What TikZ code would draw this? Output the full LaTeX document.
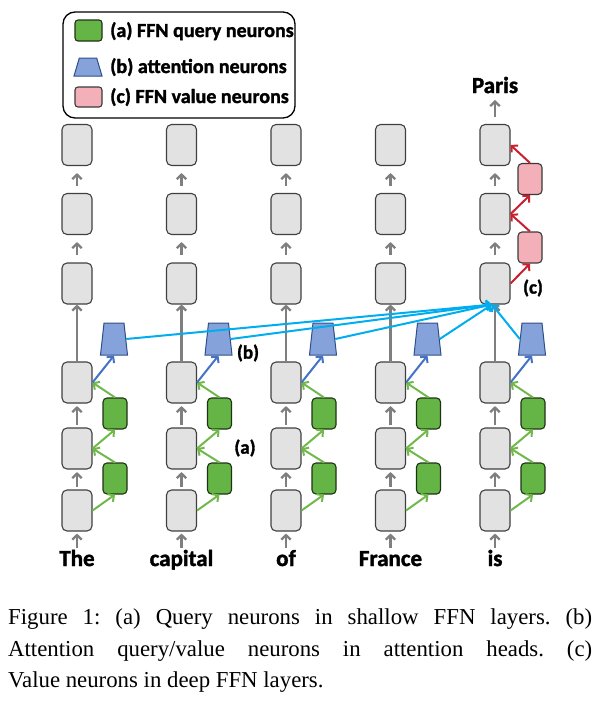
\documentclass[tikz,border=0pt]{standalone}
\usepackage{fontspec}
\setmainfont{Liberation Serif}
\newfontfamily\calb{Carlito}[BoldFeatures={FakeBold=1.6}]
\usetikzlibrary{arrows.meta,shapes.geometric,calc}
\definecolor{gfill}{HTML}{E3E2E3}
\definecolor{gline}{HTML}{404040}
\definecolor{qfill}{HTML}{64B545}
\definecolor{qline}{HTML}{1F3314}
\definecolor{vfill}{HTML}{F4B0B8}
\definecolor{vline}{HTML}{3A3A3A}
\definecolor{tfill}{HTML}{85A3DA}
\definecolor{tline}{HTML}{2F4F8A}
\definecolor{arrgray}{HTML}{7F7F7F}
\definecolor{arrgreen}{HTML}{70B84A}
\definecolor{arrblue}{HTML}{4472C4}
\definecolor{arrcyan}{HTML}{00AEEF}
\definecolor{arrred}{HTML}{C8202F}
\begin{document}
\begin{tikzpicture}[x=1pt,y=-1pt,
  gbox/.style={draw=gline,fill=gfill,line width=1.1pt,rounded corners=5pt,minimum width=30pt,minimum height=41pt,inner sep=0pt},
  qbox/.style={draw=qline,fill=qfill,line width=1.1pt,rounded corners=4pt,minimum width=24pt,minimum height=31pt,inner sep=0pt},
  vbox/.style={draw=vline,fill=vfill,line width=1.1pt,rounded corners=4pt,minimum width=24pt,minimum height=31pt,inner sep=0pt},
  trap/.style={trapezium,trapezium left angle=80,trapezium right angle=80,trapezium stretches=true,minimum width=27pt,minimum height=32pt,inner sep=1pt,draw=tline,fill=tfill,line width=1pt},
  tip/.style={-{Straight Barb[length=4.5pt,width=9.5pt]}},
  grayarr/.style={tip,draw=arrgray,line width=2.3pt},
  greenarr/.style={tip,draw=arrgreen,line width=2pt},
  bluearr/.style={tip,draw=arrblue,line width=2pt},
  cyanarr/.style={tip,draw=arrcyan,line width=2pt},
  redarr/.style={tip,draw=arrred,line width=2pt},
  word/.style={font=\calb\bfseries\fontsize{23}{27}\selectfont,anchor=base,inner sep=0pt},
  lab/.style={font=\calb\bfseries\fontsize{19}{23}\selectfont,inner sep=0pt},
  legtext/.style={font=\calb\bfseries\fontsize{20}{24}\selectfont,anchor=base west,inner sep=0pt},
  captext/.style={font=\fontsize{22.8}{27}\selectfont\frenchspacing,anchor=base west,inner sep=0pt}
]
\useasboundingbox (0,0) rectangle (606,704);
% legend
\node[draw=black,line width=1.3pt,rounded corners=12pt,minimum width=232pt,minimum height=106pt,inner sep=0pt] (leg) at (179,65) {};
\node[qbox,minimum width=27pt,minimum height=21pt,rounded corners=3pt] (legq) at (88.5,30.5) {};
\node[trap,minimum width=28pt,minimum height=18pt,trapezium left angle=73,trapezium right angle=73] (legt) at (88,67) {};
\node[vbox,minimum width=27pt,minimum height=20pt,rounded corners=3pt] (legv) at (88.5,97) {};
\node[legtext] (lega) at (110,37) {(a) FFN query neurons};
\node[legtext] (legb) at (110,73) {(b) attention neurons};
\node[legtext] (legc) at (110,103) {(c) FFN value neurons};
% columns
\foreach \c/\x in {1/77,2/181.5,3/286,4/390.5,5/495} {
  \node[gbox] (g\c1) at (\x,510.5) {};
  \node[gbox] (g\c2) at (\x,448.5) {};
  \node[gbox] (g\c3) at (\x,382.5) {};
  \node[gbox] (g\c4) at (\x,283.5) {};
  \node[gbox] (g\c5) at (\x,214) {};
  \node[gbox] (g\c6) at (\x,145) {};
  \node[qbox] (q\c1) at (\x+38,478.5) {};
  \node[qbox] (q\c2) at (\x+38,413.5) {};
  \node[trap] (t\c) at (\x+37,339) {};
  \coordinate (w\c) at (\x,548);
  \draw[grayarr,shorten >=2pt] (w\c) -- (g\c1);
  \draw[grayarr,shorten <=2.5pt,shorten >=2.5pt] (g\c1) -- (g\c2);
  \draw[grayarr,shorten <=2.5pt,shorten >=2.5pt] (g\c2) -- (g\c3);
  \draw[grayarr] (g\c3) -- (g\c4);
  \draw[grayarr,shorten <=7pt,shorten >=7pt] (g\c4) -- (g\c5);
  \draw[grayarr,shorten <=7pt,shorten >=7pt] (g\c5) -- (g\c6);
  \draw[greenarr] (g\c1.east) -- (q\c1.south);
  \draw[greenarr] (q\c1.north) -- (g\c2.east);
  \draw[greenarr] (g\c2.east) -- (q\c2.south);
  \draw[greenarr] (q\c2.north) -- (g\c3.east);
  \draw[bluearr] (g\c3.east) -- (t\c.south);
}
% value neurons
\node[vbox] (p1) at (530,247.5) {};
\node[vbox] (p2) at (530,179) {};
\draw[redarr] (g54.east) -- (p1.south);
\draw[redarr] (p1.north) -- (g55.east);
\draw[redarr] (g55.east) -- (p2.south);
\draw[redarr] (p2.north) -- (g56.east);
% output
\coordinate (top) at (495,100);
\draw[grayarr,shorten <=7pt] (g56) -- (top);
% attention lines
\coordinate (tgt) at ($(g54.south)+(-3,0)$);
\foreach \c in {1,2,3,4} { \draw[cyanarr] (t\c.east) -- (tgt); }
\draw[cyanarr] (t5.west) -- (tgt);
% words
\node[word] (wd1) at (77,566) {The};
\node[word] (wd2) at (181.5,566) {capital};
\node[word] (wd3) at (286,566) {of};
\node[word] (wd4) at (390.5,566) {France};
\node[word] (wd5) at (495,566) {is};
\node[word] (paris) at (495,93) {Paris};
% labels
\node[lab] (la) at (245,448) {(a)};
\node[lab] (lb) at (248,353) {(b)};
\node[lab] (lc) at (533,288) {(c)};
% caption
\node[captext] (cap1) at (8,624) {\makebox[584pt][s]{Figure 1: (a) Query neurons in shallow FFN layers. (b)}};
\node[captext] (cap2) at (8,656) {\makebox[584pt][s]{Attention query/value neurons in attention heads. (c)}};
\node[captext] (cap3) at (8,687) {Value neurons in deep FFN layers.};
\end{tikzpicture}
\end{document}
